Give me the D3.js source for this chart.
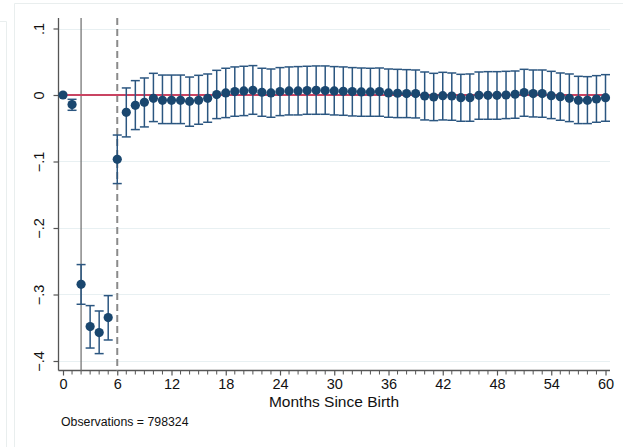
<!DOCTYPE html>
<html><head><meta charset="utf-8">
<script src="https://cdn.jsdelivr.net/npm/d3@7"></script>
<style>html,body{margin:0;padding:0;background:#fff;}svg{display:block;font-family:"Liberation Sans",Arial,sans-serif;}</style>
</head><body>
<svg id="chart" width="623" height="447"></svg>
<script>
const months = d3.range(0, 61);
const estimate = [0, -0.0144, -0.2847, -0.3483, -0.3573, -0.3347, -0.0967, -0.026, -0.0155, -0.011,
  -0.005, -0.008, -0.008, -0.008, -0.0095, -0.008, -0.005, 0.0006, 0.0031, 0.0051,
  0.0061, 0.0071, 0.0041, 0.0031, 0.0051, 0.0061, 0.0061, 0.0066, 0.0071, 0.0066,
  0.0061, 0.0056, 0.0051, 0.0046, 0.0046, 0.0051, 0.0031, 0.0026, 0.0021, 0.0021,
  -0.0015, -0.003, -0.001, -0.0015, -0.004, -0.004, -0.0005, -0.0005, -0.0005, 0.0,
  0.0011, 0.0036, 0.0021, 0.0021, -0.001, -0.0025, -0.005, -0.008, -0.008, -0.006, -0.004];
const ciUpper = [null, -0.0065, -0.255, -0.3167, -0.3248, -0.3017, -0.0602, 0.0106, 0.0216, 0.0256,
  0.0326, 0.030, 0.030, 0.030, 0.027, 0.0296, 0.0316, 0.0371, 0.0402, 0.0422,
  0.0432, 0.0442, 0.0402, 0.0391, 0.0412, 0.0422, 0.0427, 0.0432, 0.0437, 0.0437,
  0.0427, 0.0422, 0.0412, 0.0406, 0.0402, 0.0406, 0.0391, 0.0386, 0.0381, 0.0376,
  0.0346, 0.0326, 0.0341, 0.0331, 0.0311, 0.0316, 0.0346, 0.0351, 0.0351, 0.0356,
  0.0361, 0.0386, 0.0376, 0.0376, 0.0356, 0.0331, 0.0316, 0.0281, 0.0276, 0.0291, 0.0306];
const ciLower = [null, -0.023, -0.3147, -0.3805, -0.3889, -0.3684, -0.1332, -0.063, -0.052, -0.048,
  -0.040, -0.043, -0.043, -0.043, -0.047, -0.044, -0.041, -0.0355, -0.034, -0.032,
  -0.031, -0.029, -0.032, -0.0335, -0.031, -0.030, -0.030, -0.029, -0.029, -0.029,
  -0.030, -0.0305, -0.0315, -0.032, -0.032, -0.032, -0.0335, -0.034, -0.034, -0.0345,
  -0.0375, -0.0385, -0.0375, -0.038, -0.0395, -0.0395, -0.0365, -0.0365, -0.0365, -0.0355,
  -0.035, -0.032, -0.033, -0.0335, -0.0355, -0.038, -0.040, -0.043, -0.043, -0.041, -0.0395];
const xTicks = [0, 6, 12, 18, 24, 30, 36, 42, 48, 54, 60];
const yTicks = [0.1, 0, -0.1, -0.2, -0.3, -0.4];
const yTickLabels = [".1", "0", "\u2212.1", "\u2212.2", "\u2212.3", "\u2212.4"];
const refLines = [2, 6];
const xTitle = "Months Since Birth";
const note = "Observations = 798324";

const svg = d3.select("#chart");
const navy = "#1a476f";

// faint outer frames
svg.append("path").attr("d", "M14.5,447 V3.5 H623").attr("fill", "none").attr("stroke", "#e9eeee").attr("stroke-width", 1);
svg.append("path").attr("d", "M0,21.5 H6.5 V447").attr("fill", "none").attr("stroke", "#e9eeee").attr("stroke-width", 1);

const x = d3.scaleLinear().domain([0, 60]).range([63, 605.5]);
const y = d3.scaleLinear().domain([-0.4, 0.1]).range([361, 28.5]);
const axisX0 = 58.5, axisX1 = 610, axisYtop = 18, axisYbot = 370.5;

// gridlines
svg.append("g").selectAll("line").data(yTicks).join("line")
  .attr("x1", axisX0).attr("x2", axisX1)
  .attr("y1", d => Math.round(y(d)) + 0.5).attr("y2", d => Math.round(y(d)) + 0.5)
  .attr("stroke", "#e8f0f2").attr("stroke-width", 1.2);

// y axis
const yAxis = d3.axisLeft(y).tickValues(yTicks).tickSize(5).tickFormat((d, i) => yTickLabels[i]);
const gy = svg.append("g").attr("transform", `translate(${axisX0},0)`).call(yAxis);
gy.select(".domain").attr("d", `M0,${axisYtop}V${axisYbot}`).attr("stroke", "#555").attr("stroke-width", 1.3);
gy.selectAll(".tick line").attr("stroke", "#555").attr("stroke-width", 1.2);
gy.selectAll(".tick text").attr("font-size", 14.5).attr("fill", "#111")
  .attr("x", 0).attr("dy", 0).attr("text-anchor", "middle")
  .attr("transform", "translate(-15,0) rotate(-90)");
gy.attr("font-family", null);

// x axis
const xAxis = d3.axisBottom(x).tickValues(xTicks).tickSize(5).tickPadding(3);
const gx = svg.append("g").attr("transform", `translate(0,${axisYbot})`).call(xAxis);
gx.select(".domain").attr("d", `M${axisX0},0H${axisX1}`).attr("stroke", "#555").attr("stroke-width", 1.3);
gx.selectAll(".tick line").attr("stroke", "#555").attr("stroke-width", 1.2);
gx.selectAll(".tick text").attr("font-size", 14.5).attr("fill", "#111");
gx.attr("font-family", null);
// minor ticks
gx.append("g").selectAll("line").data(months.filter(m => m % 6 !== 0)).join("line")
  .attr("x1", d => x(d)).attr("x2", d => x(d)).attr("y1", 0).attr("y2", 4)
  .attr("stroke", "#555").attr("stroke-width", 1);

// x title
svg.append("text").attr("x", 334).attr("y", 407).attr("text-anchor", "middle")
  .attr("font-size", 15.5).attr("fill", "#111").text(xTitle);
svg.append("text").attr("x", 61).attr("y", 426).attr("font-size", 12.3).attr("fill", "#111").text(note);

// reference vertical lines
svg.append("line").attr("x1", x(refLines[0])).attr("x2", x(refLines[0]))
  .attr("y1", axisYtop).attr("y2", axisYbot).attr("stroke", "#777").attr("stroke-width", 1.3);
svg.append("line").attr("x1", x(refLines[1])).attr("x2", x(refLines[1]))
  .attr("y1", axisYtop).attr("y2", axisYbot).attr("stroke", "#8a8a8a").attr("stroke-width", 2)
  .attr("stroke-dasharray", "7,4");

// zero line
svg.append("line").attr("x1", x(0)).attr("x2", x(60)).attr("y1", y(0)).attr("y2", y(0))
  .attr("stroke", "#c94462").attr("stroke-width", 2);

// error bars
const data = months.map((m, i) => ({m, est: estimate[i], lo: ciLower[i], hi: ciUpper[i]}));
const withCI = data.filter(d => d.lo !== null);
const eb = svg.append("g").attr("stroke", "#2b5680").attr("stroke-width", 1.5).attr("fill", "none");
eb.selectAll("line.v").data(withCI).join("line").attr("class", "v")
  .attr("x1", d => x(d.m)).attr("x2", d => x(d.m)).attr("y1", d => y(d.hi)).attr("y2", d => y(d.lo));
eb.selectAll("line.t").data(withCI).join("line").attr("class", "t")
  .attr("x1", d => x(d.m) - 4.5).attr("x2", d => x(d.m) + 4.5).attr("y1", d => y(d.hi)).attr("y2", d => y(d.hi));
eb.selectAll("line.b").data(withCI).join("line").attr("class", "b")
  .attr("x1", d => x(d.m) - 4.5).attr("x2", d => x(d.m) + 4.5).attr("y1", d => y(d.lo)).attr("y2", d => y(d.lo));

// points
svg.append("g").selectAll("circle").data(data).join("circle")
  .attr("cx", d => x(d.m)).attr("cy", d => y(d.est)).attr("r", 4.6).attr("fill", navy);
</script>
</body></html>
